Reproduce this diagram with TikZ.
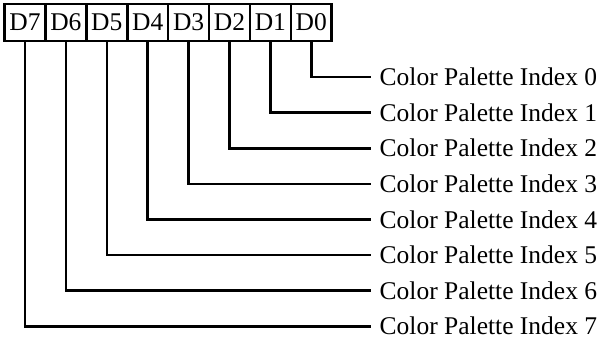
\documentclass[tikz,border=0pt]{standalone}
\usepackage{fontspec}
\setmainfont{Liberation Serif}
\usepackage{tikz}
\usetikzlibrary{positioning}

\tikzset{
    bitbox/.style={draw, line width=2.6pt, outer sep=0pt, inner sep=0pt,
                   minimum width=40.9pt, minimum height=37pt,
                   font=\fontsize{25.5}{30}\selectfont},
    indexlabel/.style={anchor=west, inner xsep=8.5pt, inner ysep=4pt,
                       font=\fontsize{25.5}{30}\selectfont},
    bitline/.style={line width=2.6pt}
}

\begin{document}
\begin{tikzpicture}[x=1pt, y=-1pt]
    \useasboundingbox (0,0) rectangle (602,341);
    % register bits
    \node[bitbox] (b7) at (25,22.5) {D7};
    \foreach \i [evaluate=\i as \j using int(\i+1)] in {6,5,...,0} {
        \node[bitbox, right=0pt of b\j] (b\i) {D\i};
    }
    % palette index lines
    \foreach \i in {0,...,7} {
        \node[indexlabel] (l\i) at (371,{77+35.6*\i}) {Color Palette Index \i};
        \draw[bitline] (b\i.south) |- (l\i.west);
    }
\end{tikzpicture}
\end{document}
